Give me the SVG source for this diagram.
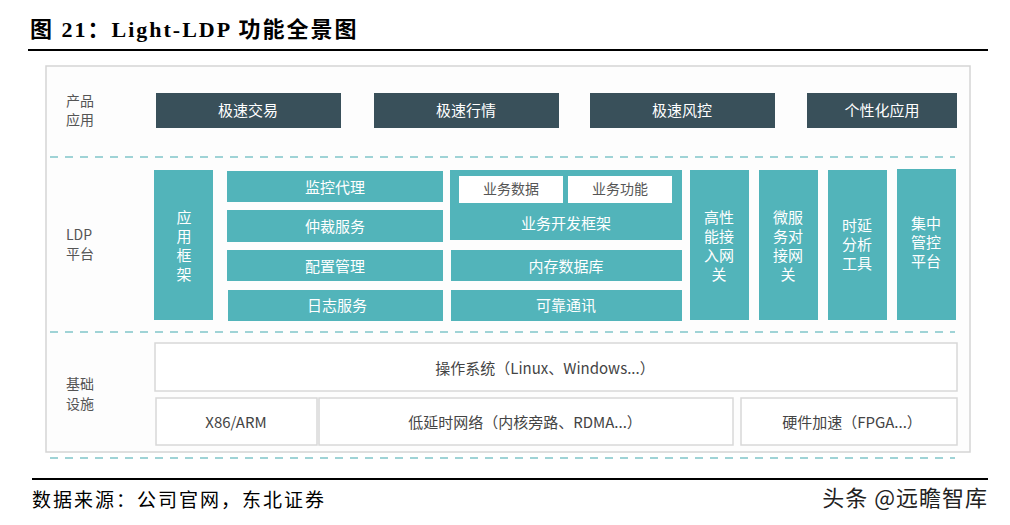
<svg xmlns="http://www.w3.org/2000/svg" width="1010" height="525" viewBox="0 0 1010 525">
<style>
text{font-family:"Noto Sans CJK SC","Noto Sans",sans-serif;text-anchor:middle;dominant-baseline:central}
.dk{fill:#39505a}
.tl{fill:#52b4ba}
.wt{fill:#fff;font-size:15px}
.lb{fill:#555;font-size:14px;text-anchor:start}
.base{fill:#fff;stroke:#d8d8d8;stroke-width:1.5}
.bt{fill:#444;font-size:15px}
.dash{stroke:#9fd3d6;stroke-width:2;stroke-dasharray:8,7}
.wb{fill:#fff}
.wbt{fill:#555;font-size:14px}
</style>
<rect width="1010" height="525" fill="#fff"/>
<text x="30" y="29" style="text-anchor:start;font-family:'Liberation Serif','Noto Sans CJK SC',serif;font-weight:bold;font-size:22px;letter-spacing:2px;fill:#000">图 21：Light-LDP 功能全景图</text>
<line x1="28" y1="50" x2="988" y2="50" stroke="#000" stroke-width="2"/>
<rect x="46" y="66" width="924" height="386" fill="#fdfdfd" stroke="#d5d5d5" stroke-width="1.5"/>
<g id="connectors">
<line class="dash" x1="50" y1="157" x2="955" y2="157"/>
<line class="dash" x1="50" y1="332" x2="955" y2="332"/>
<line class="dash" x1="50" y1="458" x2="955" y2="458"/>
</g>
<g id="labels">
<text class="lb" x="66" y="100">产品</text><text class="lb" x="66" y="119">应用</text>
<text class="lb" x="66" y="234">LDP</text><text class="lb" x="66" y="253">平台</text>
<text class="lb" x="66" y="383">基础</text><text class="lb" x="66" y="403">设施</text>
</g>
<g id="n1"><rect class="dk" x="156" y="93" width="185" height="35"/><text class="wt" x="248" y="109">极速交易</text></g>
<g id="n2"><rect class="dk" x="374" y="93" width="185" height="35"/><text class="wt" x="466" y="109">极速行情</text></g>
<g id="n3"><rect class="dk" x="590" y="93" width="185" height="35"/><text class="wt" x="682" y="109">极速风控</text></g>
<g id="n4"><rect class="dk" x="807" y="93" width="150" height="35"/><text class="wt" x="882" y="109">个性化应用</text></g>
<g id="n5"><rect class="tl" x="154" y="170" width="59" height="150"/><text class="wt"><tspan x="184" y="216">应</tspan><tspan x="184" y="235">用</tspan><tspan x="184" y="254">框</tspan><tspan x="184" y="273">架</tspan></text></g>
<g id="n6"><rect class="tl" x="227" y="171" width="216" height="31"/><text class="wt" x="335" y="186">监控代理</text></g>
<g id="n7"><rect class="tl" x="227" y="210" width="216" height="32"/><text class="wt" x="335" y="225">仲裁服务</text></g>
<g id="n8"><rect class="tl" x="227" y="250" width="216" height="31"/><text class="wt" x="335" y="265">配置管理</text></g>
<g id="n9"><rect class="tl" x="228" y="290" width="215" height="31"/><text class="wt" x="337" y="304">日志服务</text></g>
<g id="n10"><rect class="tl" x="450" y="170" width="232" height="70"/><text class="wt" x="566" y="222">业务开发框架</text>
<rect class="wb" x="459" y="176" width="104" height="27"/><text class="wbt" x="511" y="188">业务数据</text>
<rect class="wb" x="568" y="176" width="104" height="27"/><text class="wbt" x="620" y="188">业务功能</text></g>
<g id="n11"><rect class="tl" x="451" y="250" width="231" height="31"/><text class="wt" x="566" y="265">内存数据库</text></g>
<g id="n12"><rect class="tl" x="451" y="290" width="231" height="31"/><text class="wt" x="566" y="304">可靠通讯</text></g>
<g id="n13"><rect class="tl" x="690" y="170" width="59" height="150"/><text class="wt"><tspan x="719" y="216">高性</tspan><tspan x="719" y="235">能接</tspan><tspan x="719" y="254">入网</tspan><tspan x="719" y="273">关</tspan></text></g>
<g id="n14"><rect class="tl" x="759" y="170" width="59" height="150"/><text class="wt"><tspan x="788" y="216">微服</tspan><tspan x="788" y="235">务对</tspan><tspan x="788" y="254">接网</tspan><tspan x="788" y="273">关</tspan></text></g>
<g id="n15"><rect class="tl" x="828" y="170" width="59" height="150"/><text class="wt"><tspan x="857" y="224">时延</tspan><tspan x="857" y="243">分析</tspan><tspan x="857" y="262">工具</tspan></text></g>
<g id="n16"><rect class="tl" x="897" y="169" width="59" height="151"/><text class="wt"><tspan x="926" y="222">集中</tspan><tspan x="926" y="241">管控</tspan><tspan x="926" y="260">平台</tspan></text></g>
<g id="n17"><rect class="base" x="155" y="343" width="802" height="48"/><text class="bt" x="545" y="367">操作系统（Linux、Windows...）</text></g>
<g id="n18"><rect class="base" x="156" y="398" width="161" height="47"/><text class="bt" x="236" y="421">X86/ARM</text></g>
<g id="n19"><rect class="base" x="319" y="398" width="414" height="47"/><text class="bt" x="525" y="421">低延时网络（内核旁路、RDMA...）</text></g>
<g id="n20"><rect class="base" x="741" y="398" width="216" height="47"/><text class="bt" x="852" y="421">硬件加速（FPGA...）</text></g>
<line x1="32" y1="479" x2="988" y2="479" stroke="#000" stroke-width="2"/>
<text x="32" y="498" style="text-anchor:start;font-family:'Noto Sans CJK SC',serif;font-size:19px;letter-spacing:2px;fill:#000">数据来源：公司官网，东北证券</text>
<text x="988" y="496" style="text-anchor:end;font-size:22px;letter-spacing:1px;fill:#222">头条 @远瞻智库</text>
</svg>
